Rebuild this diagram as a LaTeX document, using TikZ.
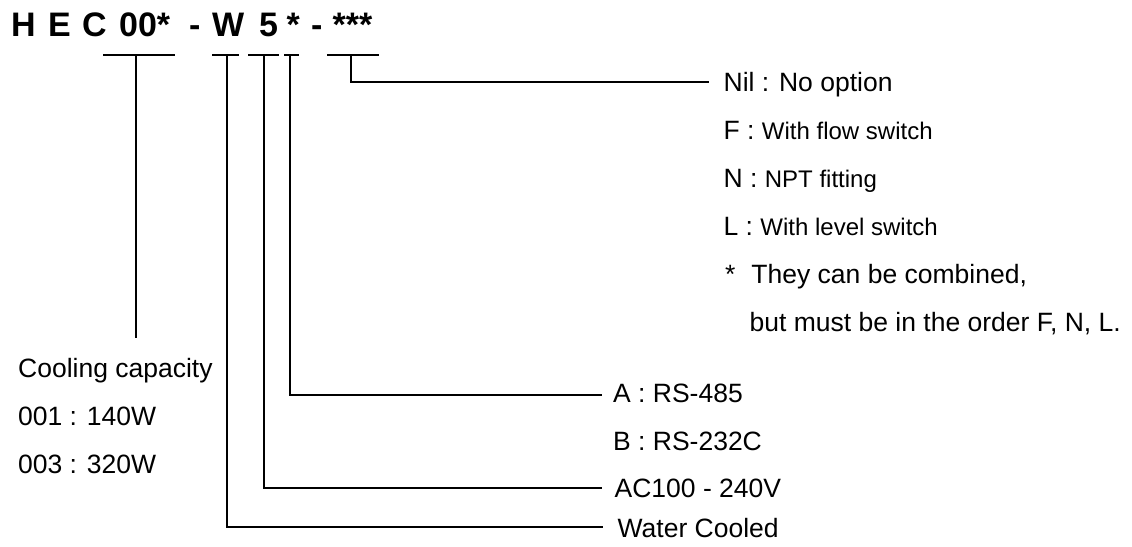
\documentclass[tikz,border=0pt]{standalone}
\usepackage{fontspec}
\setmainfont{Liberation Sans}
\begin{document}
\begin{tikzpicture}[x=1pt,y=-1pt,line width=1.3pt,
  ttl/.style={anchor=base west,inner sep=0pt,font=\fontsize{34}{40}\selectfont\bfseries},
  lbl/.style={anchor=base west,inner sep=0pt,font=\fontsize{26.5}{30}\selectfont},
  conn/.style={draw=black,line width=1.3pt}]
\newcommand{\dsc}{\fontsize{24}{28}\selectfont}
\useasboundingbox (0,0) rectangle (1132,546);
% title
\node[ttl] (tH) at (10.5,36.5) {H};
\node[ttl] (tE) at (47.5,36.5) {E};
\node[ttl] (tC) at (81.5,36.5) {C};
\node[ttl] (t00) at (118.5,36.5) {00*};
\node[ttl] (td1) at (188.5,36.5) {-};
\node[ttl] (tW) at (211.5,36.5) {W};
\node[ttl] (t5) at (258.5,36.5) {5};
\node[ttl] (ts) at (286,36.5) {*};
\node[ttl] (td2) at (310.5,36.5) {-};
\node[ttl] (tss) at (332,36.5) {***};
% bars
\draw (103,55) -- (175,55);
\draw (212,55) -- (239,55);
\draw (248,55) -- (279,55);
\draw (284,55) -- (299,55);
\draw (327,55) -- (379,55);
% stem coordinates
\coordinate (s1) at (136,55);
\coordinate (s2) at (227,55);
\coordinate (s3) at (264,55);
\coordinate (s4) at (290,55);
\coordinate (s5) at (351,55);
\coordinate (e1) at (136,338);
\coordinate (e2) at (603,527);
\coordinate (e3) at (602,488);
\coordinate (e4) at (602,395);
\coordinate (e5) at (709,82);
% right column (options)
\node[lbl] (nil) at (723,91) {Nil : No option};
\node[lbl] (optF) at (723,139) {F : {\dsc With flow switch}};
\node[lbl] (optN) at (723,187) {N : {\dsc NPT fitting}};
\node[lbl] (optL) at (723,235) {L : {\dsc With level switch}};
\node[lbl] (note1) at (724.5,283) {*\hspace{16pt}They can be combined,};
\node[lbl] (note2) at (749,331) {but must be in the order F, N, L.};
% left column
\node[lbl] (cc) at (17.5,377) {Cooling capacity};
\node[lbl] (c1) at (17.5,425) {001 : 140W};
\node[lbl] (c3) at (17.5,473) {003 : 320W};
% lower labels
\node[lbl] (ra) at (612.5,402) {A : RS-485};
\node[lbl] (rb) at (612.5,450) {B : RS-232C};
\node[lbl] (ac) at (614,497.5) {AC100 - 240V};
\node[lbl] (wc) at (617,537) {Water Cooled};
% connectors
\draw[conn] (s1) -- (e1);
\draw[conn] (s2) |- (e2);
\draw[conn] (s3) |- (e3);
\draw[conn] (s4) |- (e4);
\draw[conn] (s5) |- (e5);
\end{tikzpicture}
\end{document}
